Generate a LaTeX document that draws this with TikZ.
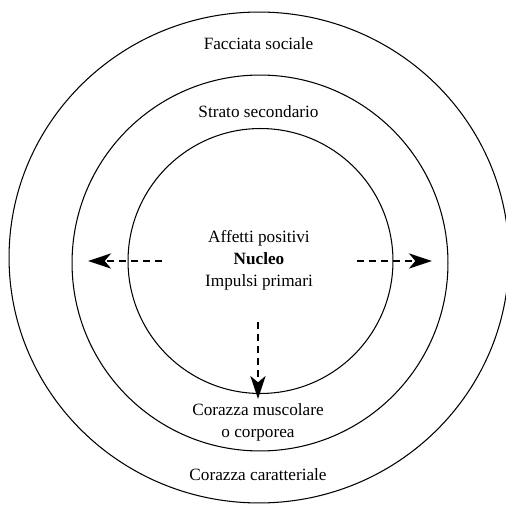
\documentclass[tikz,border=0pt]{standalone}
\usepackage{fontspec}
\setmainfont{Liberation Serif}
\usetikzlibrary{arrows.meta,positioning}

\begin{document}
\begin{tikzpicture}[
    x=0.02cm, y=-0.02cm,
    ring/.style={circle, draw, line width=0.6pt, inner sep=0pt},
    lbl/.style={align=center, font=\fontsize{9.8}{12.6}\selectfont},
    push/.style={dashed, line width=1.5pt, dash pattern=on 4pt off 2.8pt,
                 -{Stealth[length=13pt, width=8.5pt, inset=3.5pt]}}
]
\useasboundingbox (0,0) rectangle (505,506);

% rings
\draw[line width=0.6pt] (259,257.5) ellipse [x radius=5cm, y radius=4.91cm];
\node[ring, minimum size=7.52cm] (strato) at (260,263) {};
\node[ring, minimum size=5.3cm] (nucleo) at (260.5,261) {};

% labels
\node[lbl] (facciata) at (258.5,44) {Facciata sociale};
\node[lbl] (secondario) at (258.5,112) {Strato secondario};
\node[lbl] (centro) at (259,260) {Affetti positivi\\\textbf{Nucleo}\\Impulsi primari};
\node[lbl] (muscolare) at (258,422) {Corazza muscolare\\o corporea};
\node[lbl] (caratteriale) at (258,475) {Corazza caratteriale};

% arrows
\coordinate (sx0) at (162,261);
\coordinate (sx1) at (88,261);
\coordinate (dx0) at (357,261);
\coordinate (dx1) at (432,261);
\coordinate (gi0) at (258,322);
\coordinate (gi1) at (258,399);
\draw[push] (sx0) -- (sx1);
\draw[push] (dx0) -- (dx1);
\draw[push] (gi0) -- (gi1);

\end{tikzpicture}
\end{document}
